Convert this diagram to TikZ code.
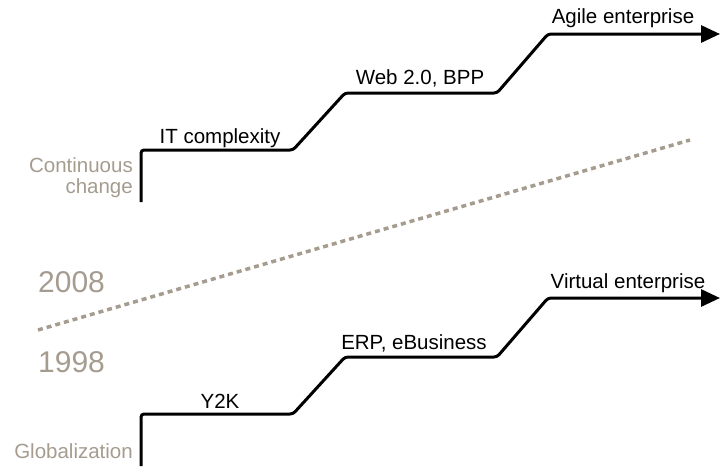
\documentclass[tikz,border=0pt]{standalone}
\usepackage{fontspec}
\setmainfont{Liberation Sans}
\usetikzlibrary{arrows.meta,calc}
\definecolor{taupe}{HTML}{A59C8F}

\begin{document}
\begin{tikzpicture}[x=1pt,y=-1pt,
    stair/.style={line width=3pt, rounded corners=3pt, -{Triangle[length=19pt,width=17pt]}},
    steplabel/.style={font=\fontsize{20.5}{23}\selectfont, anchor=base, inner sep=0pt},
    sidelabel/.style={font=\fontsize{20.5}{21}\selectfont, text=taupe, align=right, anchor=base east, inner sep=0pt},
    yearlabel/.style={font=\fontsize{30}{32}\selectfont, text=taupe, anchor=base west, inner sep=0pt}]

    \useasboundingbox (0,0) rectangle (727,472);

    % two staircases, the lower one shifted down by 264
    \foreach \n/\d in {top/0, bot/264} {
      \coordinate (\n0) at (141, 202+\d);
      \coordinate (\n1) at (141, 150+\d);
      \coordinate (\n2) at (293, 150+\d);
      \coordinate (\n3) at (345, 93+\d);
      \coordinate (\n4) at (497, 93+\d);
      \coordinate (\n5) at (548, 34+\d);
      \coordinate (\n6) at (720, 34+\d);
      \draw[stair] (\n0) -- (\n1) -- (\n2) -- (\n3) -- (\n4) -- (\n5) -- (\n6);
    }

    \node[steplabel] (itc) at (220, 143) {IT complexity};
    \node[steplabel] (web) at (420, 84) {Web 2.0, BPP};
    \node[steplabel] (agile) at (623, 23) {Agile enterprise};

    \node[steplabel] (y2k) at (220, 408) {Y2K};
    \node[steplabel] (erp) at (414, 349) {ERP, eBusiness};
    \node[steplabel] (virtual) at (628, 288) {Virtual enterprise};

    \node[sidelabel] (cont) at (133, 193) {Continuous\\change};
    \node[sidelabel] (glob) at (133, 458) {Globalization};

    \node[yearlabel] (newyear) at (38, 292) {2008};
    \node[yearlabel] (oldyear) at (38, 372) {1998};

    \coordinate (dashL) at (38, 330);
    \coordinate (dashR) at (690, 140);
    \draw[taupe, line width=3.5pt, dash pattern=on 5pt off 4pt] (dashL) -- (dashR);

  \end{tikzpicture}
\end{document}
